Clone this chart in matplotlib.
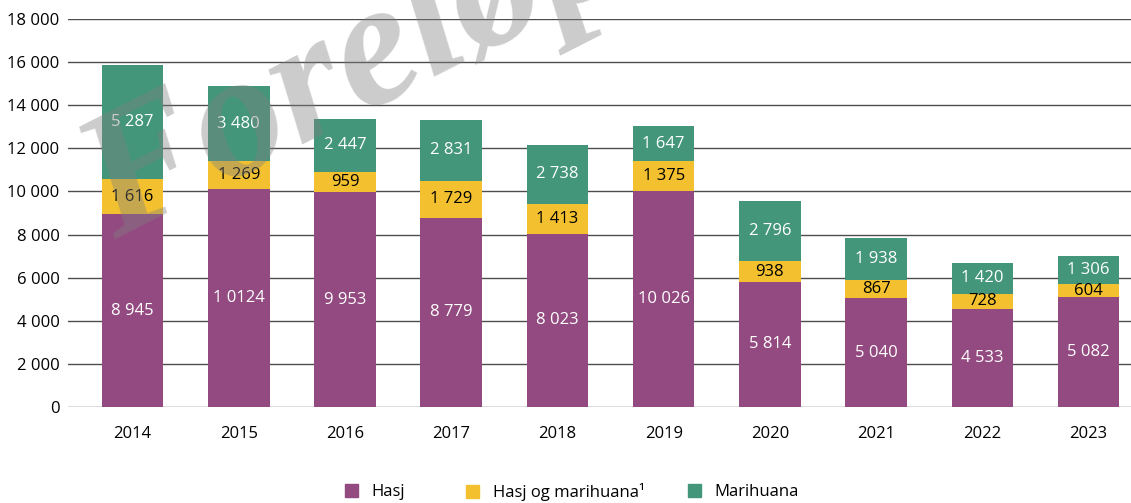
import matplotlib.pyplot as plt
import numpy as np
from matplotlib.patches import Patch

plt.rcParams['font.family'] = ['Open Sans', 'DejaVu Sans']

years = ['2014', '2015', '2016', '2017', '2018', '2019', '2020', '2021', '2022', '2023']
hasj = [8945, 10124, 9953, 8779, 8023, 10026, 5814, 5040, 4533, 5082]
begge = [1616, 1269, 959, 1729, 1413, 1375, 938, 867, 728, 604]
marihuana = [5287, 3480, 2447, 2831, 2738, 1647, 2796, 1938, 1420, 1306]
hasj_labels = ['8 945', '1 0124', '9 953', '8 779', '8 023', '10 026', '5 814', '5 040', '4 533', '5 082']
begge_labels = ['1 616', '1 269', '959', '1 729', '1 413', '1 375', '938', '867', '728', '604']
mari_labels = ['5 287', '3 480', '2 447', '2 831', '2 738', '1 647', '2 796', '1 938', '1 420', '1 306']
yticks = [0, 2000, 4000, 6000, 8000, 10000, 12000, 14000, 16000, 18000]
ytick_labels = ['0', '2 000', '4 000', '6 000', '8 000', '10 000', '12 000', '14 000', '16 000', '18 000']

c_hasj = '#934A80'
c_begge = '#F3C12F'
c_mari = '#43967A'

fig = plt.figure(figsize=(11.31, 5.03), dpi=100)
ax = fig.add_axes([0.060, 0.191, 0.940, 0.771])

x = np.arange(len(years))
hasj = np.array(hasj)
begge = np.array(begge)
marihuana = np.array(marihuana)
w = 0.58

ax.bar(x, hasj, w, color=c_hasj, zorder=3)
ax.bar(x, begge, w, bottom=hasj, color=c_begge, zorder=3)
ax.bar(x, marihuana, w, bottom=hasj + begge, color=c_mari, zorder=3)

for i in range(len(years)):
    ax.text(x[i], hasj[i] / 2, hasj_labels[i], ha='center', va='center', color='white', fontsize=12, zorder=4)
    ax.text(x[i], hasj[i] + begge[i] / 2, begge_labels[i], ha='center', va='center', color='black', fontsize=12, zorder=4)
    ax.text(x[i], hasj[i] + begge[i] + marihuana[i] / 2, mari_labels[i], ha='center', va='center', color='white', fontsize=12, zorder=4)

ax.set_xlim(-0.61, 9.4)
ax.set_ylim(0, 18000)
ax.set_yticks(yticks)
ax.set_yticklabels(ytick_labels)
ax.set_xticks(x)
ax.set_xticklabels(years)
ax.tick_params(axis='both', length=0, labelsize=12, colors='black')
ax.tick_params(axis='x', pad=14)
ax.tick_params(axis='y', pad=6)
ax.grid(axis='y', color='#4d4d4d', linewidth=1, zorder=0)
for s in ax.spines.values():
    s.set_visible(False)

# legend: three entries placed separately
entries = [('Hasj', c_hasj, 0.305), ('Hasj og marihuana¹', c_begge, 0.412), ('Marihuana', c_mari, 0.608)]
for name, col, xpos in entries:
    fig.legend(handles=[Patch(color=col, label=name)], loc='center left', bbox_to_anchor=(xpos, 0.022),
               frameon=False, fontsize=12, handlelength=0.8, handleheight=0.8, handletextpad=0.8,
               borderpad=0, borderaxespad=0)

# watermark
fig.text(115 / 1131, 1 - 240 / 503, 'Foreløpig', fontsize=128, family='Liberation Serif',
         fontweight='bold', style='italic', color='#808080', alpha=0.4, rotation=27,
         rotation_mode='anchor', ha='left', va='baseline', zorder=10)

plt.savefig('out.png', dpi=100)
